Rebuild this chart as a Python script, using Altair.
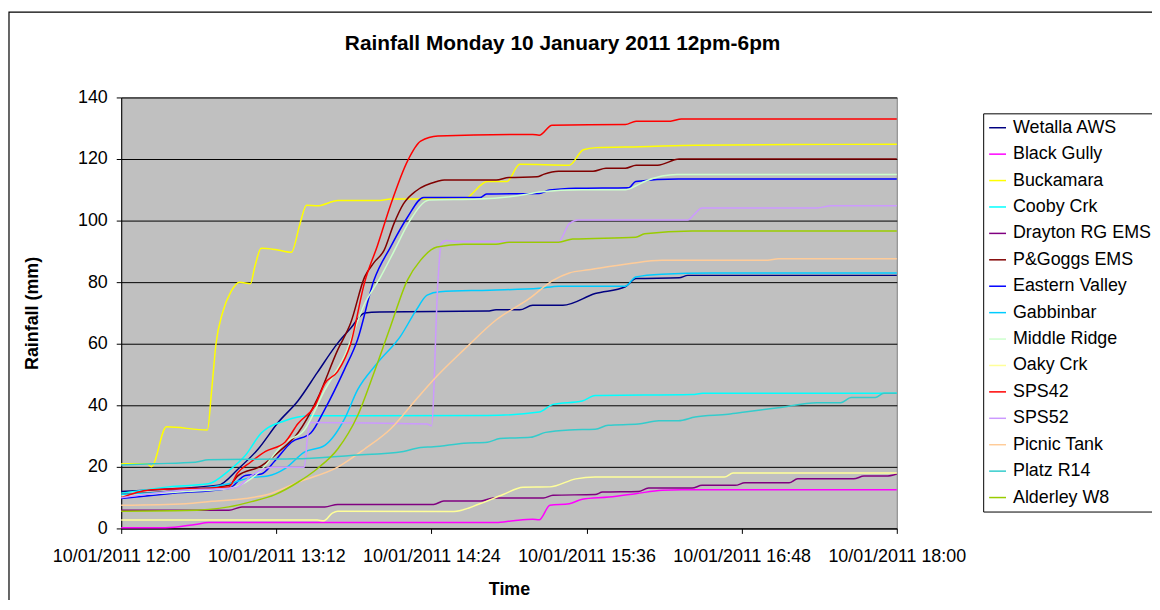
import altair as alt
import pandas as pd

stations = ["Wetalla AWS", "Black Gully", "Buckamara", "Cooby Crk", "Drayton RG EMS",
            "P&Goggs EMS", "Eastern Valley", "Gabbinbar", "Middle Ridge", "Oaky Crk",
            "SPS42", "SPS52", "Picnic Tank", "Platz R14", "Alderley W8"]
colors = ["#000080", "#FF00FF", "#FFFF00", "#00FFFF", "#800080",
          "#800000", "#0000FF", "#00CCFF", "#CCFFCC", "#FFFF99",
          "#FF0000", "#CC99FF", "#FFCC99", "#33CCCC", "#99CC00"]

# minutes after 12:00 and rainfall (mm) for each station
wetalla_t = [0, 14, 45, 54.4, 63.6, 72.8, 82, 91, 100.5, 106.5, 113, 120, 170, 174, 185, 191, 205, 220, 234, 239, 259, 263, 360]
wetalla_v = [12, 12.5, 14, 19.4, 25.8, 34.4, 41.4, 50.6, 60.2, 65, 70, 70.3, 70.6, 71, 71, 72.5, 72.5, 76.3, 78.5, 81.2, 81.4, 82.2, 82.2]

black_t = [0, 20.6, 34.4, 40.5, 174, 182, 191, 194, 199, 208, 214, 226.4, 238.8, 251, 260, 360]
black_v = [0.2, 0.2, 1.3, 1.9, 1.9, 2.5, 3, 2.8, 7.5, 8, 9.5, 10.2, 11.3, 12.4, 12.6, 12.6]

bucka_t = [0, 12, 14, 21, 40, 42, 44, 47, 51, 55, 60, 62, 65, 71.5, 79, 83, 86, 91, 100.6, 120, 125, 159, 170, 179, 185, 208, 214.5, 220.5, 241, 267, 311, 360]
bucka_v = [21, 21, 20, 33, 32, 45, 60, 70, 77, 80, 79.5, 85, 91, 90.6, 89.7, 99, 105, 104.8, 106.5, 106.5, 107, 107, 112.7, 112.7, 118.3, 118, 123, 123.7, 124, 124.5, 124.7, 124.8]

cooby_t = [0, 22, 40.5, 50, 57.6, 65, 76, 88, 170, 194, 200.4, 214, 220, 265, 270, 360]
cooby_v = [11.4, 13.5, 14.5, 18.8, 23.7, 31, 35, 36.6, 36.7, 37.8, 40.3, 41.4, 43.2, 43.5, 43.9, 43.9]

drayton_t = [0, 50, 56, 94.5, 100.5, 145, 149.7, 167, 172.6, 196, 200.4, 220, 223.4, 240, 244.8, 265, 269.6, 285, 289.5, 310, 314, 340, 344.8, 355, 360]
drayton_v = [5.9, 5.9, 7, 7, 7.8, 7.8, 8.9, 8.9, 9.9, 9.9, 10.8, 11, 11.8, 12, 13.1, 13.1, 14, 14, 14.8, 14.8, 16.1, 16.1, 17, 17, 17.7]

goggs_t = [0, 30, 50, 54, 65, 73, 82, 91, 100.5, 106.5, 113, 117.5, 122, 126.6, 131, 137, 146.6, 150, 174, 180, 193, 196, 203, 219, 225, 234, 239, 249, 259, 360]
goggs_v = [11, 12.5, 14, 17, 20.3, 24.8, 31, 42, 58, 66.7, 81.7, 86.5, 90.3, 99, 105.4, 109.7, 112.7, 113.2, 113.2, 114, 114.2, 115, 116, 116, 117, 117, 118, 118, 120, 120]

eastern_t = [0, 22, 50, 57.6, 65, 71.4, 79, 88, 94.5, 103.6, 109.7, 117.3, 125, 132.8, 140.4, 166.5, 169.6, 194, 198.8, 211, 235.7, 238.8, 258.6, 360]
eastern_v = [9.7, 11.3, 13, 17.2, 17.7, 22, 28, 31, 38.7, 51.6, 61.3, 80.6, 91.4, 101, 107.5, 107.5, 108.6, 108.8, 109.9, 110.5, 110.7, 112.7, 113.5, 113.5]

gabbin_t = [0, 30, 50, 60, 68, 76, 85, 94.5, 103.6, 109.7, 119, 129.6, 137, 142, 148, 171, 194, 203, 234, 238.8, 251, 274, 360]
gabbin_v = [11, 12.5, 14.5, 16.5, 17, 19.4, 24.8, 27, 35.5, 45, 53.8, 62.4, 71, 75.8, 76.9, 77.4, 78, 78.7, 78.7, 81.7, 82.6, 83, 83]

middle_t = [0, 30, 50, 60, 65, 76, 85, 94.5, 103.6, 113, 120.4, 126.6, 134, 143, 166, 189.5, 194, 214, 234, 239, 243, 251, 258, 360]
middle_v = [10.5, 12, 13, 16, 19, 28, 32, 45, 56, 73, 81.7, 90, 100, 106.7, 107, 108.7, 109.3, 110, 110, 111.3, 112.7, 114.5, 115, 115]

oaky_t = [0, 91, 94, 98, 100.5, 154.3, 166.5, 177.3, 186.5, 199, 211, 220, 280, 284, 360]
oaky_v = [2.7, 2.7, 2.5, 5, 5.6, 5.5, 8, 11, 13.4, 13.5, 16.1, 16.7, 16.7, 18, 18]

sps42_t = [0, 13, 50, 54, 60, 67, 76, 82, 90, 94.5, 100.5, 106.5, 113, 119, 125, 133, 139, 147, 191, 194, 200, 234, 239, 255, 260, 360]
sps42_v = [10, 12.5, 13.5, 18, 21.5, 25, 28, 34, 40, 47, 51, 60, 80, 92, 105, 119.5, 125.8, 127.5, 128, 127.7, 131, 131.2, 132.3, 132.3, 133, 133]

sps52_t = [0, 30, 50, 54, 60.5, 69.7, 85, 86.5, 88, 142, 144, 147, 148.5, 151, 155, 203, 208, 212, 263, 266, 269.6, 323, 329.5, 360]
sps52_v = [10, 12.5, 13, 13.5, 17.2, 19.9, 19.9, 30, 34.4, 33.9, 33.3, 80, 92.5, 93.5, 93.2, 93.2, 99, 100.2, 100.2, 102, 104.1, 104.1, 104.8, 104.8]

picnic_t = [0, 30, 42, 57.6, 68, 82, 100.5, 113, 125, 137, 146.6, 159, 174, 189.5, 200.4, 208, 217, 235.6, 251, 300, 305, 360]
picnic_v = [7.5, 8, 8.8, 9.7, 11, 15, 19.9, 25.8, 32.3, 42, 49.5, 58, 67.7, 74.7, 80.6, 83, 84, 86, 87.1, 87.1, 87.6, 87.6]

platz_t = [0, 15, 34.4, 40.5, 80, 106.5, 131, 139, 145, 159, 170, 175.8, 190, 197, 208, 220, 226, 240, 249.5, 258.6, 266.4, 281.7, 289.5, 305, 323, 334, 338.8, 350, 354, 360]
platz_v = [20.6, 21, 21.5, 22.3, 22.6, 23.7, 25, 26.3, 26.5, 27.7, 28, 29.2, 29.6, 31.2, 32, 32.2, 33.5, 33.9, 35, 35, 36.2, 37.1, 37.8, 39.2, 40.8, 40.8, 42.5, 42.5, 43.9, 43.9]

alder_t = [0, 30, 50, 60.5, 71.4, 82, 91, 100.5, 109.7, 117.3, 125, 132.8, 138.8, 146.6, 159, 174, 180, 203, 209.6, 238.8, 243, 265, 360]
alder_v = [5.6, 5.8, 7, 8.7, 11, 15, 19.4, 25.8, 36.6, 50.5, 65.6, 80.6, 87, 91.4, 92.3, 92.3, 93, 93, 94, 94.6, 95.7, 96.6, 96.6]

series = [
    (wetalla_t, wetalla_v), (black_t, black_v), (bucka_t, bucka_v), (cooby_t, cooby_v),
    (drayton_t, drayton_v), (goggs_t, goggs_v), (eastern_t, eastern_v), (gabbin_t, gabbin_v),
    (middle_t, middle_v), (oaky_t, oaky_v), (sps42_t, sps42_v), (sps52_t, sps52_v),
    (picnic_t, picnic_v), (platz_t, platz_v), (alder_t, alder_v),
]

x_tick_times = ["2011-01-10T12:00:00", "2011-01-10T13:12:00", "2011-01-10T14:24:00",
                "2011-01-10T15:36:00", "2011-01-10T16:48:00", "2011-01-10T18:00:00"]

start = pd.Timestamp("2011-01-10 12:00:00")
rows = []
for name, (ts, vs) in zip(stations, series):
    for t, v in zip(ts, vs):
        rows.append({"Station": name,
                     "Time": (start + pd.Timedelta(minutes=t)).strftime("%Y-%m-%dT%H:%M:%S"),
                     "Rainfall": v})
df = pd.DataFrame(rows)

FONT = "Liberation Sans"

x_values = [alt.DateTime(year=2011, month=1, date=10,
                         hours=int(s[11:13]), minutes=int(s[14:16])) for s in x_tick_times]

lines = alt.Chart(df).mark_line(interpolate="monotone", strokeWidth=1.5).encode(
    x=alt.X("Time:T",
            scale=alt.Scale(domain=[x_values[0], x_values[-1]], nice=False),
            axis=alt.Axis(values=x_values, format="%d/%m/%Y %H:%M", title="Time",
                          grid=False, labelFlush=False, labelOverlap=False, labelBound=False,
                          tickSize=5, labelPadding=14, titleY=62, titleBaseline="middle")),
    y=alt.Y("Rainfall:Q",
            scale=alt.Scale(domain=[0, 140], nice=False),
            axis=alt.Axis(values=[0, 20, 40, 60, 80, 100, 120, 140], title="Rainfall (mm)",
                          grid=True, gridColor="#000000", gridWidth=1, tickSize=5,
                          labelPadding=9, titleX=-89, titleY=217, titleAlign="center",
                          titleBaseline="middle")),
    color=alt.Color("Station:N", sort=stations,
                    scale=alt.Scale(domain=stations, range=colors),
                    legend=alt.Legend(title=None, orient="none", legendX=868, legendY=16,
                                      symbolType="stroke", symbolSize=289, symbolStrokeWidth=1.5,
                                      labelFontSize=18, labelFont=FONT, labelColor="#000000",
                                      labelOffset=6, padding=5, rowPadding=7.6,
                                      strokeColor="#000000", fillColor="#FFFFFF",
                                      labelLimit=300)),
    order=alt.Order("Time:T"),
)

frame = alt.Chart(alt.Data(values=[{"a": 1}])).mark_rect(
    fill=None, stroke="#000000", strokeWidth=1.2
).encode(
    x=alt.value(-113), x2=alt.value(1200), y=alt.value(-86), y2=alt.value(700)
)

chart = alt.layer(frame, lines).properties(
    width=781, height=434,
    background="#FFFFFF",
    padding={"left": 114, "top": 88, "right": 257, "bottom": 70},
    autosize=alt.AutoSizeParams(type="none"),
    title=alt.TitleParams("Rainfall Monday 10 January 2011 12pm-6pm", font=FONT, fontSize=21,
                          fontWeight="bold", color="#000000", anchor="middle", frame="group",
                          dx=54, dy=21, offset=-33, baseline="middle"),
).configure_view(
    fill="#C0C0C0", stroke="#808080", strokeWidth=1
).configure_axis(
    labelFont=FONT, labelFontSize=18, labelColor="#000000",
    titleFont=FONT, titleFontSize=18, titleFontWeight="bold", titleColor="#000000",
    domainColor="#000000", tickColor="#000000", domainWidth=1, tickWidth=1,
)

chart.save("out.html", embed_options={"renderer": "svg", "actions": False})
